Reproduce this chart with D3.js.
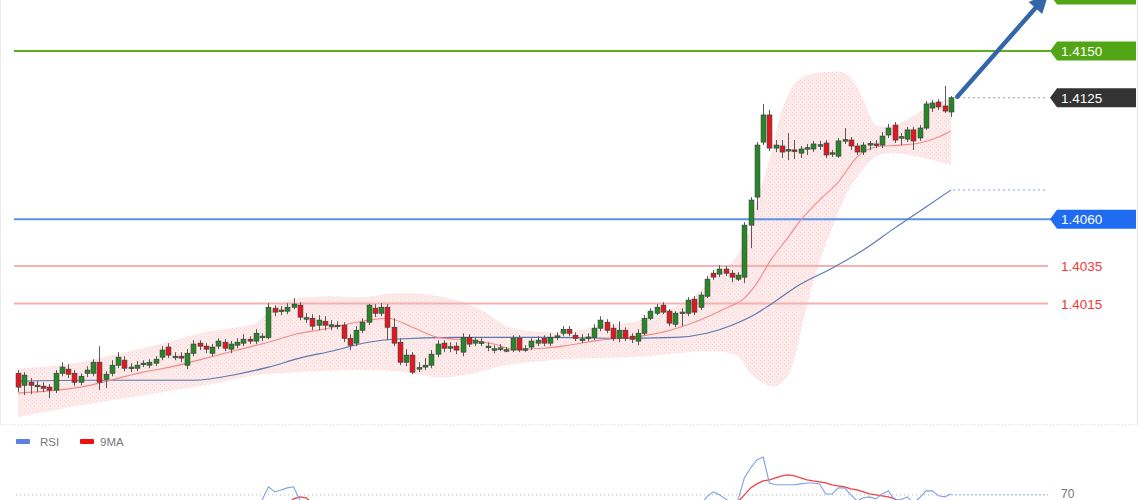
<!DOCTYPE html>
<html><head><meta charset="utf-8">
<script src="https://cdn.jsdelivr.net/npm/d3@7"></script>
<style>html,body{margin:0;padding:0;background:#fff;}svg{display:block;}</style>
</head><body>
<svg id="c" width="1140" height="500"></svg>
<script>
// ---- candle data (index 0..149) ----
const opens=[1.39777,1.39713,1.39729,1.39708,1.39708,1.39703,1.39687,1.39777,1.39799,1.39777,
1.39729,1.39777,1.39777,1.39836,1.39745,1.39777,1.39820,1.39847,1.39804,1.39804,
1.39826,1.39820,1.39831,1.39863,1.39917,1.39863,1.39868,1.39820,1.39884,1.39938,
1.39922,1.39884,1.39922,1.39943,1.39906,1.39927,1.39938,1.39959,1.39949,1.39969,
1.39969,1.40125,1.40109,1.40109,1.40130,1.40141,1.40071,1.40071,1.40034,1.40055,
1.40034,1.40029,1.40034,1.39964,1.39938,1.40007,1.40050,1.40125,1.40098,1.40130,
1.40023,1.39943,1.39836,1.39874,1.39804,1.39810,1.39820,1.39879,1.39938,1.39917,
1.39922,1.39890,1.39969,1.39938,1.39943,1.39917,1.39906,1.39911,1.39901,1.39901,
1.39964,1.39906,1.39917,1.39938,1.39964,1.39938,1.39975,1.39991,1.40012,1.39980,
1.39959,1.39969,1.39969,1.40018,1.40050,1.40018,1.39964,1.40007,1.39975,1.39949,
1.39991,1.40071,1.40098,1.40141,1.40109,1.40039,1.40098,1.40098,1.40173,1.40130,
1.40189,1.40312,1.40307,1.40334,1.40312,1.40280,1.40291,1.40569,1.40719,1.41013,
1.41158,1.40981,1.40992,1.40971,1.40971,1.40954,1.40981,1.40976,1.40997,1.41008,
1.40954,1.40938,1.41024,1.41024,1.40992,1.40960,1.41003,1.41003,1.40997,1.41051,
1.41104,1.41040,1.41029,1.41078,1.41035,1.41088,1.41195,1.41227,1.41206,1.41174];
const highs=[1.39794,1.39783,1.39751,1.39735,1.39729,1.39719,1.39794,1.39836,1.39826,1.39794,
1.39777,1.39815,1.39852,1.39922,1.39788,1.39847,1.39890,1.39868,1.39831,1.39842,
1.39847,1.39852,1.39868,1.39922,1.39938,1.39890,1.39890,1.39906,1.39954,1.39954,
1.39938,1.39933,1.39964,1.39959,1.39949,1.39964,1.39986,1.39975,1.40012,1.39991,
1.40152,1.40141,1.40136,1.40152,1.40179,1.40157,1.40098,1.40093,1.40088,1.40082,
1.40061,1.40055,1.40050,1.39986,1.40029,1.40071,1.40147,1.40147,1.40152,1.40147,
1.40071,1.39964,1.39906,1.39890,1.39836,1.39858,1.39901,1.39954,1.39954,1.39943,
1.39943,1.39991,1.39986,1.39969,1.39964,1.39943,1.39927,1.39933,1.39917,1.39980,
1.39980,1.39927,1.39964,1.39975,1.39980,1.39991,1.39996,1.40029,1.40029,1.39996,
1.39986,1.39991,1.40039,1.40082,1.40066,1.40039,1.40055,1.40023,1.39991,1.40012,
1.40088,1.40125,1.40147,1.40157,1.40120,1.40109,1.40125,1.40184,1.40189,1.40211,
1.40297,1.40329,1.40355,1.40350,1.40329,1.40318,1.40585,1.40719,1.41013,1.41217,
1.41185,1.41024,1.41024,1.41061,1.41024,1.40992,1.41003,1.41019,1.41019,1.41024,
1.40971,1.41035,1.41088,1.41040,1.41008,1.41013,1.41019,1.41024,1.41067,1.41110,
1.41120,1.41061,1.41094,1.41094,1.41104,1.41233,1.41238,1.41243,1.41313,1.41259];
const lows=[1.39676,1.39660,1.39665,1.39676,1.39676,1.39644,1.39671,1.39761,1.39751,1.39708,
1.39713,1.39756,1.39761,1.39687,1.39697,1.39761,1.39804,1.39788,1.39783,1.39788,
1.39810,1.39804,1.39815,1.39847,1.39858,1.39847,1.39836,1.39799,1.39868,1.39901,
1.39884,1.39868,1.39906,1.39895,1.39884,1.39911,1.39922,1.39933,1.39933,1.39949,
1.39959,1.40082,1.40088,1.40093,1.40120,1.40061,1.40045,1.40007,1.40007,1.40007,
1.40007,1.40012,1.39943,1.39901,1.39922,1.39991,1.40034,1.40077,1.40082,1.39954,
1.39922,1.39820,1.39815,1.39772,1.39783,1.39794,1.39804,1.39863,1.39890,1.39890,
1.39879,1.39868,1.39917,1.39922,1.39922,1.39895,1.39884,1.39895,1.39890,1.39890,
1.39890,1.39890,1.39901,1.39922,1.39922,1.39922,1.39954,1.39975,1.39975,1.39949,
1.39938,1.39949,1.39954,1.40002,1.39991,1.39949,1.39943,1.39949,1.39938,1.39927,
1.39980,1.40061,1.40088,1.40093,1.40029,1.40023,1.40029,1.40082,1.40088,1.40115,
1.40179,1.40275,1.40291,1.40297,1.40264,1.40270,1.40259,1.40446,1.40650,1.40997,
1.40965,1.40960,1.40928,1.40917,1.40922,1.40928,1.40944,1.40960,1.40971,1.40928,
1.40933,1.40928,1.41003,1.40971,1.40944,1.40944,1.40971,1.40981,1.40981,1.41035,
1.41008,1.40997,1.41013,1.40971,1.41019,1.41078,1.41174,1.41185,1.41169,1.41147];
const closes=[1.39703,1.39767,1.39713,1.39713,1.39697,1.39687,1.39777,1.39810,1.39772,1.39729,
1.39761,1.39794,1.39836,1.39729,1.39772,1.39820,1.39863,1.39804,1.39810,1.39820,
1.39831,1.39836,1.39852,1.39901,1.39874,1.39868,1.39858,1.39884,1.39933,1.39922,
1.39906,1.39917,1.39949,1.39911,1.39933,1.39943,1.39959,1.39949,1.39991,1.39975,
1.40130,1.40104,1.40115,1.40130,1.40147,1.40077,1.40074,1.40029,1.40061,1.40034,
1.40036,1.40034,1.39964,1.39927,1.40007,1.40050,1.40141,1.40098,1.40130,1.40023,
1.39938,1.39836,1.39874,1.39783,1.39807,1.39820,1.39879,1.39933,1.39911,1.39919,
1.39901,1.39969,1.39933,1.39954,1.39945,1.39922,1.39908,1.39913,1.39903,1.39964,
1.39901,1.39908,1.39949,1.39954,1.39938,1.39969,1.39977,1.40012,1.39991,1.39964,
1.39961,1.39971,1.40018,1.40061,1.40007,1.39964,1.40007,1.39964,1.39959,1.39991,
1.40071,1.40109,1.40130,1.40104,1.40045,1.40098,1.40104,1.40168,1.40104,1.40195,
1.40280,1.40291,1.40334,1.40312,1.40291,1.40302,1.40569,1.40703,1.40997,1.41158,
1.40981,1.40997,1.40960,1.40973,1.40969,1.40976,1.40983,1.41003,1.40999,1.40944,
1.40956,1.41019,1.41026,1.40992,1.40960,1.40997,1.41005,1.41001,1.41045,1.41088,
1.41024,1.41042,1.41078,1.41019,1.41088,1.41217,1.41222,1.41201,1.41179,1.41250];

// ---- indicator overlays: [candle index, price] ----
const bandUpper=[[0,1.39804],[5,1.39815],[10,1.39836],[15,1.39874],[20,1.39911],[25,1.39954],[30,1.39997],[35,1.40023],[38,1.40045],[40,1.40104],[42,1.40152],[45,1.40179],[50,1.40189],[55,1.40184],[60,1.40205],[65,1.40200],[70,1.40168],[74,1.40115],[78,1.40029],[82,1.40002],[88,1.39997],[93,1.40034],[98,1.40050],[103,1.40104],[107,1.40168],[110,1.40248],[112,1.40302],[114,1.40366],[116,1.40473],[117,1.40559],[118,1.40703],[120,1.40917],[122,1.41185],[124,1.41324],[126,1.41372],[129,1.41388],[132,1.41382],[134,1.41308],[135,1.41238],[136,1.41158],[137,1.41104],[140,1.41104],[144,1.41174],[149,1.41254]];
const bandLower=[[0,1.39542],[10,1.39606],[20,1.39660],[30,1.39713],[38,1.39767],[45,1.39783],[55,1.39794],[62,1.39783],[67,1.39756],[72,1.39772],[78,1.39820],[85,1.39847],[93,1.39858],[100,1.39868],[107,1.39890],[113,1.39890],[115,1.39868],[117,1.39777],[119,1.39724],[121,1.39708],[123,1.39767],[124,1.39858],[126,1.40141],[128,1.40371],[130,1.40553],[132,1.40714],[134,1.40826],[137,1.40933],[139,1.40954],[144,1.40933],[149,1.40890]];
const maFast=[[0,1.39671],[10,1.39703],[20,1.39783],[25,1.39815],[30,1.39858],[35,1.39901],[40,1.39943],[45,1.39991],[48,1.40007],[55,1.40055],[59,1.40071],[63,1.40023],[67,1.39969],[72,1.39954],[76,1.39933],[79,1.39906],[84,1.39911],[88,1.39927],[93,1.39954],[98,1.39969],[103,1.39997],[108,1.40050],[113,1.40125],[116,1.40179],[118,1.40259],[120,1.40371],[123,1.40505],[125,1.40596],[128,1.40703],[131,1.40799],[134,1.40933],[137,1.40987],[141,1.40997],[144,1.41008],[147,1.41040],[149,1.41072]];
const maSlow=[[0,1.39735],[10,1.39740],[20,1.39740],[28,1.39740],[35,1.39772],[40,1.39810],[45,1.39858],[50,1.39895],[56,1.39943],[60,1.39959],[70,1.39969],[85,1.39969],[95,1.39964],[105,1.39969],[110,1.39991],[114,1.40034],[118,1.40098],[120,1.40141],[125,1.40254],[130,1.40339],[135,1.40436],[140,1.40553],[145,1.40666],[149,1.40757]];

// ---- levels ----
const levelPrices=[1.4180,1.4150,1.4125,1.4060,1.4035,1.4015];
const levelKinds=['target','resistance','last','pivot','support','support'];
const levelLabels=['1.4180','1.4150','1.4125','1.4060','1.4035','1.4015'];
const arrowPts=[[150,1.41255],[164.6,1.4181]];

// ---- RSI panel: [candle index, value] ----
const rsiValues=[[0,48],[10,52],[20,55],[30,58],[36,60],[38,61.8],[39,67.3],[40,74.4],[41,71.6],[42,72.7],[43,73.8],[44,74.4],[45,67.3],[46,61.8],[50,50],[60,38],[65,35],[75,48],[90,55],[100,57],[106,60],[109,64.5],[110,68.9],[111,71.6],[112,70.0],[113,67.8],[114,65.6],[115,67.3],[116,79.3],[117,84.7],[118,89.1],[119,90.7],[120,76.5],[121,75.5],[122,75.5],[123,75.5],[124,75.5],[125,76.0],[126,76.5],[127,76.5],[128,76.0],[129,70.5],[130,70.5],[131,73.8],[132,73.8],[133,70.0],[134,66.7],[135,68.4],[136,68.9],[137,67.8],[138,70.5],[139,72.2],[140,67.3],[141,67.3],[142,68.9],[143,65.6],[144,68.4],[145,72.2],[146,72.2],[147,69.5],[148,68.9],[149,70.5]];
const rsiMA9=[[0,50],[20,53],[35,58],[42,63],[43,64.5],[44,67.8],[45,68.9],[46,68.4],[47,65.6],[50,60],[65,45],[80,44],[100,53],[110,60],[114,64],[115,66.2],[116,70],[117,73.8],[118,76],[119,77.6],[120,78.2],[121,79.3],[122,80.4],[123,80.9],[124,80.4],[125,79.3],[126,78.2],[127,77.6],[128,77.1],[129,76.5],[130,75.5],[131,74.9],[132,74.4],[133,73.3],[134,72.7],[135,71.6],[136,70.5],[137,70.0],[138,69.5],[139,68.9],[140,67.8],[141,66.2],[145,65],[149,64.5]];
const rsiLevel=70;
const legendNames=['RSI','9MA'];

// ---- drawing ----
const svg=d3.select('#c');
const FONT='"Liberation Sans", Arial, sans-serif';
const x=d3.scaleLinear().domain([0,149]).range([18,951]);
const y=d3.scaleLinear().domain([1.4015,1.4150]).range([303.5,51]);
const yr=d3.scaleLinear().domain([30,100]).range([568,440]);

const defs=svg.append('defs');
const pat=defs.append('pattern').attr('id','dots').attr('width',4).attr('height',4).attr('patternUnits','userSpaceOnUse');
pat.append('rect').attr('width',4).attr('height',4).attr('fill','#fdeaea');
pat.append('rect').attr('x',0).attr('y',0).attr('width',1).attr('height',1).attr('fill','#f9d6d6');
pat.append('rect').attr('x',2).attr('y',2).attr('width',1).attr('height',1).attr('fill','#f9d6d6');
defs.append('clipPath').attr('id','mainClip').append('rect').attr('x',0).attr('y',0).attr('width',1140).attr('height',423);
defs.append('clipPath').attr('id','rsiClip').append('rect').attr('x',0).attr('y',426).attr('width',1140).attr('height',74);

svg.append('rect').attr('width',1140).attr('height',500).attr('fill','#fff');
// frame hints
svg.append('line').attr('x1',0.5).attr('x2',0.5).attr('y1',0).attr('y2',424).attr('stroke','#ececec');
svg.append('line').attr('x1',1137.5).attr('x2',1137.5).attr('y1',0).attr('y2',424).attr('stroke','#e4e4e4');
svg.append('line').attr('x1',0).attr('x2',1140).attr('y1',424.5).attr('y2',424.5).attr('stroke','#cfe4ea').attr('stroke-dasharray','1,2');

const main=svg.append('g').attr('clip-path','url(#mainClip)');

// band
const bl=d3.line().x(d=>x(d[0])).y(d=>y(d[1])).curve(d3.curveCatmullRom.alpha(0.5));
const upPath=bl(bandUpper);
const loPath=bl(bandLower.slice().reverse());
main.append('path').attr('d',upPath+'L'+loPath.slice(1)+'Z').attr('fill','url(#dots)');

// level lines
levelPrices.forEach((p,i)=>{
  const k=levelKinds[i], yy=y(p);
  if(k==='resistance'||k==='target') main.append('line').attr('x1',14).attr('x2',1052).attr('y1',yy).attr('y2',yy).attr('stroke','#5caf1c').attr('stroke-width',2);
  if(k==='pivot') main.append('line').attr('x1',14).attr('x2',1052).attr('y1',yy).attr('y2',yy).attr('stroke','#5b8ff0').attr('stroke-width',2);
  if(k==='support') main.append('line').attr('x1',14).attr('x2',1048).attr('y1',yy).attr('y2',yy).attr('stroke','#f7b0b0').attr('stroke-width',2);
  if(k==='last') main.append('line').attr('x1',958).attr('x2',1048).attr('y1',yy).attr('y2',yy).attr('stroke','#9a9a9a').attr('stroke-width',1).attr('stroke-dasharray','2,3');
});

// moving averages
const ml=d3.line().x(d=>x(d[0])).y(d=>y(d[1])).curve(d3.curveMonotoneX);
main.append('path').attr('d',ml(maSlow)).attr('fill','none').attr('stroke','#5a78ad').attr('stroke-width',1.1);
main.append('path').attr('d',ml(maFast)).attr('fill','none').attr('stroke','#f38a8a').attr('stroke-width',1.1);
const lastSlow=maSlow[maSlow.length-1];
main.append('line').attr('x1',x(lastSlow[0])+2).attr('x2',1048).attr('y1',y(lastSlow[1])).attr('y2',y(lastSlow[1])).attr('stroke','#8aa3d6').attr('stroke-dasharray','2,3');

// candles
const cg=main.append('g');
const bw=4.8;
d3.range(opens.length).forEach(i=>{
  const o=opens[i],c=closes[i],h=highs[i],l=lows[i];
  const cx=Math.round(x(i))+0.5;
  const up=c>=o;
  cg.append('line').attr('x1',cx).attr('x2',cx).attr('y1',y(h)).attr('y2',y(l)).attr('stroke','#5a5a5a').attr('stroke-width',1);
  const top=y(Math.max(o,c)), bot=y(Math.min(o,c));
  const hgt=Math.max(1.5,bot-top);
  cg.append('rect').attr('x',cx-bw/2).attr('y',top).attr('width',bw).attr('height',hgt)
    .attr('fill',up?'#238a23':'#e8161c').attr('stroke','#3d3d3d').attr('stroke-width',0.7);
});

// arrow
const ax0=x(arrowPts[0][0]), ay0=y(arrowPts[0][1]), ax1=x(arrowPts[1][0]), ay1=y(arrowPts[1][1]);
const ang=Math.atan2(ay1-ay0,ax1-ax0);
const hl=20, hw=9;
const bx=ax1-hl*Math.cos(ang), by=ay1-hl*Math.sin(ang);
svg.append('line').attr('x1',ax0).attr('y1',ay0).attr('x2',bx).attr('y2',by).attr('stroke','#3367a8').attr('stroke-width',4.5).attr('stroke-linecap','round');
svg.append('path').attr('d',`M${ax1},${ay1} L${bx+hw*Math.sin(ang)},${by-hw*Math.cos(ang)} L${bx-hw*Math.sin(ang)},${by+hw*Math.cos(ang)} Z`).attr('fill','#3367a8');

// labels (the target tag sits above the top edge; only its box shows)
levelPrices.forEach((p,i)=>{
  const k=levelKinds[i], cy=y(p);
  let fill=null, tc='#fff';
  if(k==='resistance'||k==='target') fill='#52a514';
  if(k==='pivot') fill='#1f6cf2';
  if(k==='last') fill='#333333';
  if(fill){
    svg.append('path').attr('d',`M1050,${cy} L1057,${cy-9.5} L1136,${cy-9.5} L1136,${cy+9.5} L1057,${cy+9.5} Z`).attr('fill',fill);
  } else tc='#f23a3a';
  if(cy-7>0) svg.append('text').attr('x',1061).attr('y',cy+5).attr('fill',tc).attr('font-family',FONT).attr('font-size',13.5).text(levelLabels[i]);
});

// RSI panel
const rg=svg.append('g');
rg.append('rect').attr('x',16).attr('y',439).attr('width',14).attr('height',5).attr('rx',1).attr('fill','#5b82e0');
rg.append('text').attr('x',40).attr('y',446).attr('font-family',FONT).attr('font-size',11.5).attr('fill','#777').text(legendNames[0]);
rg.append('rect').attr('x',80).attr('y',439).attr('width',14).attr('height',5).attr('rx',1).attr('fill','#ee1111');
rg.append('text').attr('x',100).attr('y',446).attr('font-family',FONT).attr('font-size',11.5).attr('fill','#777').text(legendNames[1]);
const r70=yr(rsiLevel);
rg.append('line').attr('x1',16).attr('x2',950).attr('y1',r70).attr('y2',r70).attr('stroke','#b5b5b5').attr('stroke-dasharray','1,3');
const lastR=rsiValues[rsiValues.length-1];
rg.append('line').attr('x1',x(lastR[0])).attr('x2',1048).attr('y1',r70).attr('y2',r70).attr('stroke','#8fa8e0').attr('stroke-dasharray','2,2');
rg.append('text').attr('x',1061).attr('y',r70+3).attr('font-family',FONT).attr('font-size',12).attr('fill','#777').text(String(rsiLevel));
const rc=svg.append('g').attr('clip-path','url(#rsiClip)');
const rl=d3.line().x(d=>x(d[0])).y(d=>yr(d[1]));
rc.append('path').attr('d',rl(rsiMA9)).attr('fill','none').attr('stroke','#f04040').attr('stroke-width',1.3);
rc.append('path').attr('d',rl(rsiValues)).attr('fill','none').attr('stroke','#7f9fe6').attr('stroke-width',1.1);
</script>
</body></html>
